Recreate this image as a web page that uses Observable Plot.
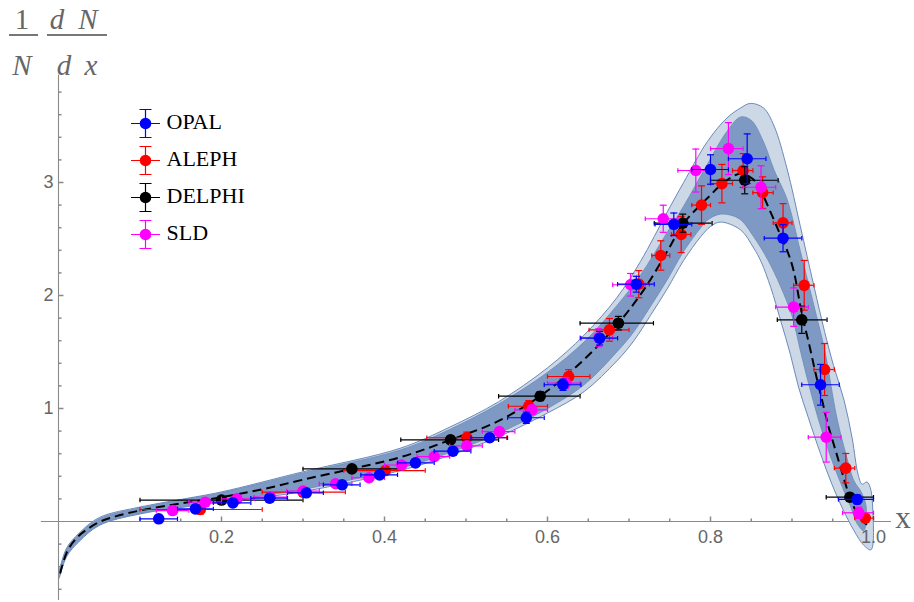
<!DOCTYPE html>
<html><head><meta charset="utf-8">
<script src="https://cdn.jsdelivr.net/npm/d3@7"></script>
<script src="https://cdn.jsdelivr.net/npm/@observablehq/plot@0.6"></script>
<style>
html,body{margin:0;padding:0;background:#fff;}
#wrap{position:relative;width:914px;height:602px;overflow:hidden;}
.lab{position:absolute;font-family:"Liberation Serif",serif;color:#666;font-size:29px;line-height:34px;width:40px;text-align:center;}
.it{font-style:italic;}
.bar{position:absolute;height:2px;background:#777;}
</style></head><body>
<div id="wrap">
  <div class="lab" style="left:2px;top:2px">1</div>
  <div class="bar" style="left:9px;top:34px;width:29px"></div>
  <div class="lab it" style="left:2px;top:48px">N</div>
  <div class="lab it" style="left:37px;top:2px">d</div>
  <div class="lab it" style="left:68px;top:2px">N</div>
  <div class="bar" style="left:47px;top:34px;width:60px"></div>
  <div class="lab it" style="left:44px;top:48px">d</div>
  <div class="lab it" style="left:71px;top:48px">x</div>
  <div class="lab" style="left:883px;top:502px;font-size:31px;line-height:31px">x</div>
</div>
<script>
// ---------- data ----------
// dashed central curve [x, y]
const centerCurve = [[0.002,-0.46],[0.011,-0.26],[0.023,-0.14],[0.035,-0.07],[0.05,-0.005],[0.07,0.045],[0.1,0.097],[0.15,0.16],[0.2,0.215],[0.25,0.285],[0.3,0.37],[0.36,0.466],[0.42,0.57],[0.48,0.72],[0.54,0.89],[0.591,1.11],[0.64,1.40],[0.687,1.755],[0.72,2.07],[0.75,2.43],[0.766,2.63],[0.796,2.86],[0.82,3.02],[0.838,3.08],[0.852,3.03],[0.862,2.92],[0.876,2.70],[0.886,2.53],[0.894,2.40],[0.902,2.22],[0.912,1.84],[0.921,1.57],[0.929,1.31],[0.937,1.07],[0.945,0.835],[0.953,0.64],[0.962,0.42],[0.971,0.215],[0.98,0.07],[0.986,0.01],[0.992,-0.03]];
// outer (light) band boundaries
const outerUpper = [[0.001,-0.435],[0.01,-0.235],[0.025,-0.105],[0.05,0.035],[0.1,0.128],[0.15,0.195],[0.2,0.262],[0.3,0.44],[0.42,0.65],[0.48,0.835],[0.54,1.06],[0.6,1.36],[0.645,1.65],[0.685,1.98],[0.714,2.3],[0.747,2.74],[0.767,3.0],[0.796,3.36],[0.82,3.57],[0.837,3.66],[0.849,3.70],[0.865,3.66],[0.878,3.50],[0.894,3.12],[0.91,2.62],[0.927,2.08],[0.94,1.68],[0.951,1.38],[0.964,1.07],[0.974,0.73],[0.981,0.42],[0.986,0.33],[0.992,0.35],[0.996,0.30],[0.999,0.12]];
const outerLower = [[0.997,-0.25],[0.988,-0.21],[0.976,-0.08],[0.963,0.10],[0.949,0.33],[0.935,0.60],[0.92,0.92],[0.908,1.19],[0.898,1.48],[0.886,1.78],[0.874,2.07],[0.862,2.30],[0.853,2.42],[0.837,2.58],[0.812,2.65],[0.8,2.61],[0.788,2.52],[0.767,2.31],[0.747,2.06],[0.726,1.82],[0.706,1.60],[0.685,1.42],[0.645,1.15],[0.6,0.96],[0.54,0.75],[0.48,0.585],[0.42,0.452],[0.3,0.265],[0.2,0.17],[0.1,0.067],[0.05,-0.035],[0.025,-0.18],[0.01,-0.31],[0.001,-0.5]];
// inner (dark) band boundaries
const innerUpper = [[0.001,-0.445],[0.01,-0.245],[0.025,-0.115],[0.05,0.025],[0.1,0.12],[0.15,0.19],[0.2,0.255],[0.3,0.43],[0.42,0.635],[0.48,0.815],[0.54,1.04],[0.6,1.32],[0.645,1.59],[0.685,1.91],[0.714,2.18],[0.747,2.56],[0.767,2.79],[0.796,3.16],[0.82,3.45],[0.837,3.58],[0.85,3.55],[0.865,3.36],[0.878,3.11],[0.894,2.85],[0.91,2.40],[0.92,2.11],[0.93,1.82],[0.94,1.52],[0.955,0.92],[0.966,0.60],[0.976,0.36],[0.985,0.26],[0.991,0.13]];
const innerLower = [[0.988,-0.08],[0.98,-0.02],[0.972,0.13],[0.962,0.30],[0.947,0.58],[0.933,0.89],[0.92,1.23],[0.91,1.52],[0.9,1.82],[0.886,2.08],[0.87,2.32],[0.853,2.52],[0.835,2.68],[0.812,2.72],[0.795,2.66],[0.788,2.6],[0.767,2.39],[0.747,2.14],[0.726,1.9],[0.706,1.68],[0.685,1.5],[0.645,1.21],[0.6,1.0],[0.54,0.78],[0.48,0.61],[0.42,0.472],[0.3,0.285],[0.2,0.176],[0.1,0.071],[0.05,-0.03],[0.025,-0.17],[0.01,-0.30],[0.001,-0.49]];

// experiments: [x, y, xLow, xHigh, yErr]
const opal = [[0.123,0.024,0.100,0.146,0.02],[0.168,0.112,0.146,0.190,0.02],[0.214,0.165,0.190,0.236,0.02],[0.259,0.206,0.236,0.281,0.02],[0.304,0.254,0.281,0.325,0.02],[0.348,0.325,0.325,0.370,0.02],[0.394,0.413,0.371,0.416,0.02],[0.438,0.519,0.416,0.461,0.02],[0.484,0.622,0.461,0.506,0.03],[0.529,0.741,0.506,0.551,0.03],[0.574,0.918,0.551,0.596,0.05],[0.619,1.21,0.596,0.641,0.05],[0.664,1.622,0.641,0.686,0.06],[0.709,2.10,0.686,0.731,0.07],[0.755,2.63,0.732,0.777,0.10],[0.80,3.115,0.777,0.822,0.13],[0.845,3.21,0.822,0.868,0.22],[0.889,2.507,0.866,0.912,0.12],[0.935,1.21,0.912,0.958,0.18],[0.98,0.195,0.957,1.0,0.04]];
const aleph = [[0.174,0.106,0.100,0.250,0.04],[0.300,0.26,0.250,0.352,0.02],[0.401,0.451,0.350,0.450,0.02],[0.501,0.741,0.452,0.550,0.05],[0.577,1.02,0.552,0.600,0.05],[0.626,1.283,0.600,0.652,0.06],[0.676,1.696,0.651,0.700,0.10],[0.712,2.10,0.700,0.725,0.12],[0.739,2.354,0.728,0.750,0.13],[0.764,2.54,0.752,0.776,0.16],[0.789,2.80,0.777,0.800,0.17],[0.814,2.99,0.800,0.827,0.17],[0.840,3.106,0.827,0.852,0.15],[0.864,2.91,0.852,0.877,0.14],[0.889,2.643,0.877,0.900,0.17],[0.915,2.09,0.902,0.927,0.22],[0.940,1.345,0.927,0.952,0.23],[0.966,0.472,0.952,0.977,0.13],[0.990,0.03,0.977,1.0,0.03]];
const delphi = [[0.200,0.19,0.100,0.300,0.02],[0.360,0.466,0.300,0.420,0.02],[0.481,0.723,0.420,0.540,0.03],[0.591,1.109,0.540,0.640,0.04],[0.687,1.755,0.640,0.730,0.06],[0.766,2.64,0.731,0.802,0.08],[0.842,3.02,0.800,0.883,0.12],[0.912,1.785,0.882,0.943,0.12],[0.971,0.215,0.942,1.0,0.03]];
const sld = [[0.140,0.097,0.120,0.160,0.02],[0.180,0.171,0.160,0.200,0.02],[0.219,0.200,0.200,0.240,0.02],[0.260,0.215,0.240,0.280,0.02],[0.300,0.270,0.280,0.320,0.02],[0.340,0.334,0.320,0.360,0.02],[0.381,0.387,0.360,0.400,0.02],[0.421,0.500,0.400,0.440,0.02],[0.461,0.575,0.440,0.480,0.02],[0.501,0.670,0.480,0.520,0.03],[0.541,0.796,0.520,0.560,0.03],[0.581,0.988,0.560,0.600,0.04],[0.622,1.224,0.600,0.640,0.05],[0.663,1.626,0.640,0.680,0.08],[0.702,2.095,0.680,0.720,0.10],[0.742,2.679,0.720,0.760,0.12],[0.782,3.106,0.760,0.800,0.19],[0.822,3.30,0.800,0.840,0.23],[0.862,2.958,0.840,0.880,0.19],[0.902,1.897,0.880,0.920,0.17],[0.942,0.746,0.920,0.960,0.22],[0.982,0.077,0.962,1.0,0.05]];

const seriesNames = ["OPAL","ALEPH","DELPHI","SLD"];
const seriesColors = ["#0000ff","#ff0000","#000000","#ff00ff"];
const xTicks = [0.2,0.4,0.6,0.8,1.0];
const xTickLabels = ["0.2","0.4","0.6","0.8","1.0"];
const yTicks = [1,2,3];
const yTickLabels = ["1","2","3"];
const xAxisExtent = [-0.021,1.022];
const yAxisExtent = [-0.7,3.95];

// ---------- drawing ----------
const toPts = a => a.map(([x,y]) => ({x,y}));
const outerPoly = toPts([...outerUpper, ...outerLower]);
const innerPoly = toPts([...innerUpper, ...innerLower]);
const rows = a => a.map(([x,y,x1,x2,e]) => ({x,y,x1,x2,e}));

const capH = {draw(c){ c.moveTo(-3.5,0); c.lineTo(3.5,0); }};
const capV = {draw(c){ c.moveTo(0,-2.2); c.lineTo(0,2.2); }};
const tickUp = len => ({draw(c){ c.moveTo(0,0); c.lineTo(0,-len); }});
const tickRight = len => ({draw(c){ c.moveTo(0,0); c.lineTo(len,0); }});
const legendBars = {draw(c){
  c.moveTo(0,-14); c.lineTo(0,14);
  c.moveTo(-6,-14); c.lineTo(6,-14);
  c.moveTo(-6,14); c.lineTo(6,14);
  c.moveTo(-14.5,0); c.lineTo(14.5,0);
}};

function seriesMarks(arr, color){
  const d = rows(arr);
  return [
    Plot.ruleY(d, {y:"y", x1:"x1", x2:"x2", stroke:color, strokeWidth:1.2}),
    Plot.ruleX(d, {x:"x", y1:r=>r.y-r.e, y2:r=>r.y+r.e, stroke:color, strokeWidth:1.2}),
    Plot.dot(d, {x:"x", y:r=>r.y-r.e, symbol:capH, fill:"none", stroke:color, strokeWidth:1.2}),
    Plot.dot(d, {x:"x", y:r=>r.y+r.e, symbol:capH, fill:"none", stroke:color, strokeWidth:1.2}),
    Plot.dot(d, {x:"x1", y:"y", symbol:capV, fill:"none", stroke:color, strokeWidth:1.2}),
    Plot.dot(d, {x:"x2", y:"y", symbol:capV, fill:"none", stroke:color, strokeWidth:1.2}),
    Plot.dot(d, {x:"x", y:"y", r:5.8, fill:color, stroke:"none"})
  ];
}

const xMinor = d3.range(1,21).map(i => +(i*0.05).toFixed(2)).filter(v => !xTicks.includes(v));
const yMinor = d3.range(-3,20).map(i => +(i*0.2).toFixed(1)).filter(v => v !== 0 && !yTicks.includes(v));

const legendY = [123,160,197,234];
const legendMarks = seriesNames.flatMap((name,i) => [
  Plot.dot([name], {frameAnchor:"top-left", dx:145, dy:legendY[i], symbol:legendBars, fill:"none", stroke:seriesColors[i], strokeWidth:1.2}),
  Plot.dot([name], {frameAnchor:"top-left", dx:145, dy:legendY[i], r:5.8, fill:seriesColors[i], stroke:"none"}),
  Plot.text([name], {frameAnchor:"top-left", dx:166, dy:legendY[i] - 2, lineAnchor:"middle", text:d=>d, textAnchor:"start", fontSize:22, fontFamily:"Liberation Serif", fill:"#000"})
]);

const chart = Plot.plot({
  width:914, height:602, margin:0,
  x:{type:"linear", domain:[0,1], range:[58,873], axis:null},
  y:{type:"linear", domain:[0,1], range:[521,408], axis:null},
  style:{background:"transparent", overflow:"visible"},
  marks:[
    // axes
    Plot.ruleY([0], {x1:xAxisExtent[0], x2:xAxisExtent[1], stroke:"#8a8a8a", strokeWidth:1.1}),
    Plot.ruleX([0], {y1:yAxisExtent[0], y2:yAxisExtent[1], stroke:"#8a8a8a", strokeWidth:1.1}),
    Plot.dot(xTicks, {x:d=>d, y:0, symbol:tickUp(5), fill:"none", stroke:"#8a8a8a"}),
    Plot.dot(xMinor, {x:d=>d, y:0, symbol:tickUp(3), fill:"none", stroke:"#8a8a8a"}),
    Plot.dot(yTicks, {x:0, y:d=>d, symbol:tickRight(5), fill:"none", stroke:"#8a8a8a"}),
    Plot.dot(yMinor, {x:0, y:d=>d, symbol:tickRight(3), fill:"none", stroke:"#8a8a8a"}),
    Plot.text(yTicks, {x:0, y:d=>d, text:(d,i)=>yTickLabels[i], textAnchor:"end", dx:-5, fontSize:18, fontFamily:"Liberation Sans", fill:"#666"}),
    // uncertainty bands
    Plot.line(outerPoly, {x:"x", y:"y", fill:"#cdd8e7", stroke:"#6a8aba", strokeWidth:1, curve:"catmull-rom"}),
    Plot.line(innerPoly, {x:"x", y:"y", fill:"#7e9ac4", stroke:"#6a8aba", strokeWidth:0.8, curve:"catmull-rom"}),
    // x tick labels (drawn over the band, as in the reference)
    Plot.text(xTicks, {x:d=>d, y:0, text:(d,i)=>xTickLabels[i], dy:16, fontSize:18, fontFamily:"Liberation Sans", fill:"#666"}),
    // central dashed curve
    Plot.line(toPts(centerCurve), {x:"x", y:"y", stroke:"#000", strokeWidth:2, strokeDasharray:"9,5", curve:"catmull-rom", strokeLinecap:"butt"}),
    // data
    ...seriesMarks(aleph, seriesColors[1]),
    ...seriesMarks(delphi, seriesColors[2]),
    ...seriesMarks(sld, seriesColors[3]),
    ...seriesMarks(opal, seriesColors[0]),
    // legend
    ...legendMarks
  ]
});
chart.style.position = "absolute";
chart.style.left = "0px";
chart.style.top = "0px";
document.getElementById("wrap").prepend(chart);
</script>
</body></html>
